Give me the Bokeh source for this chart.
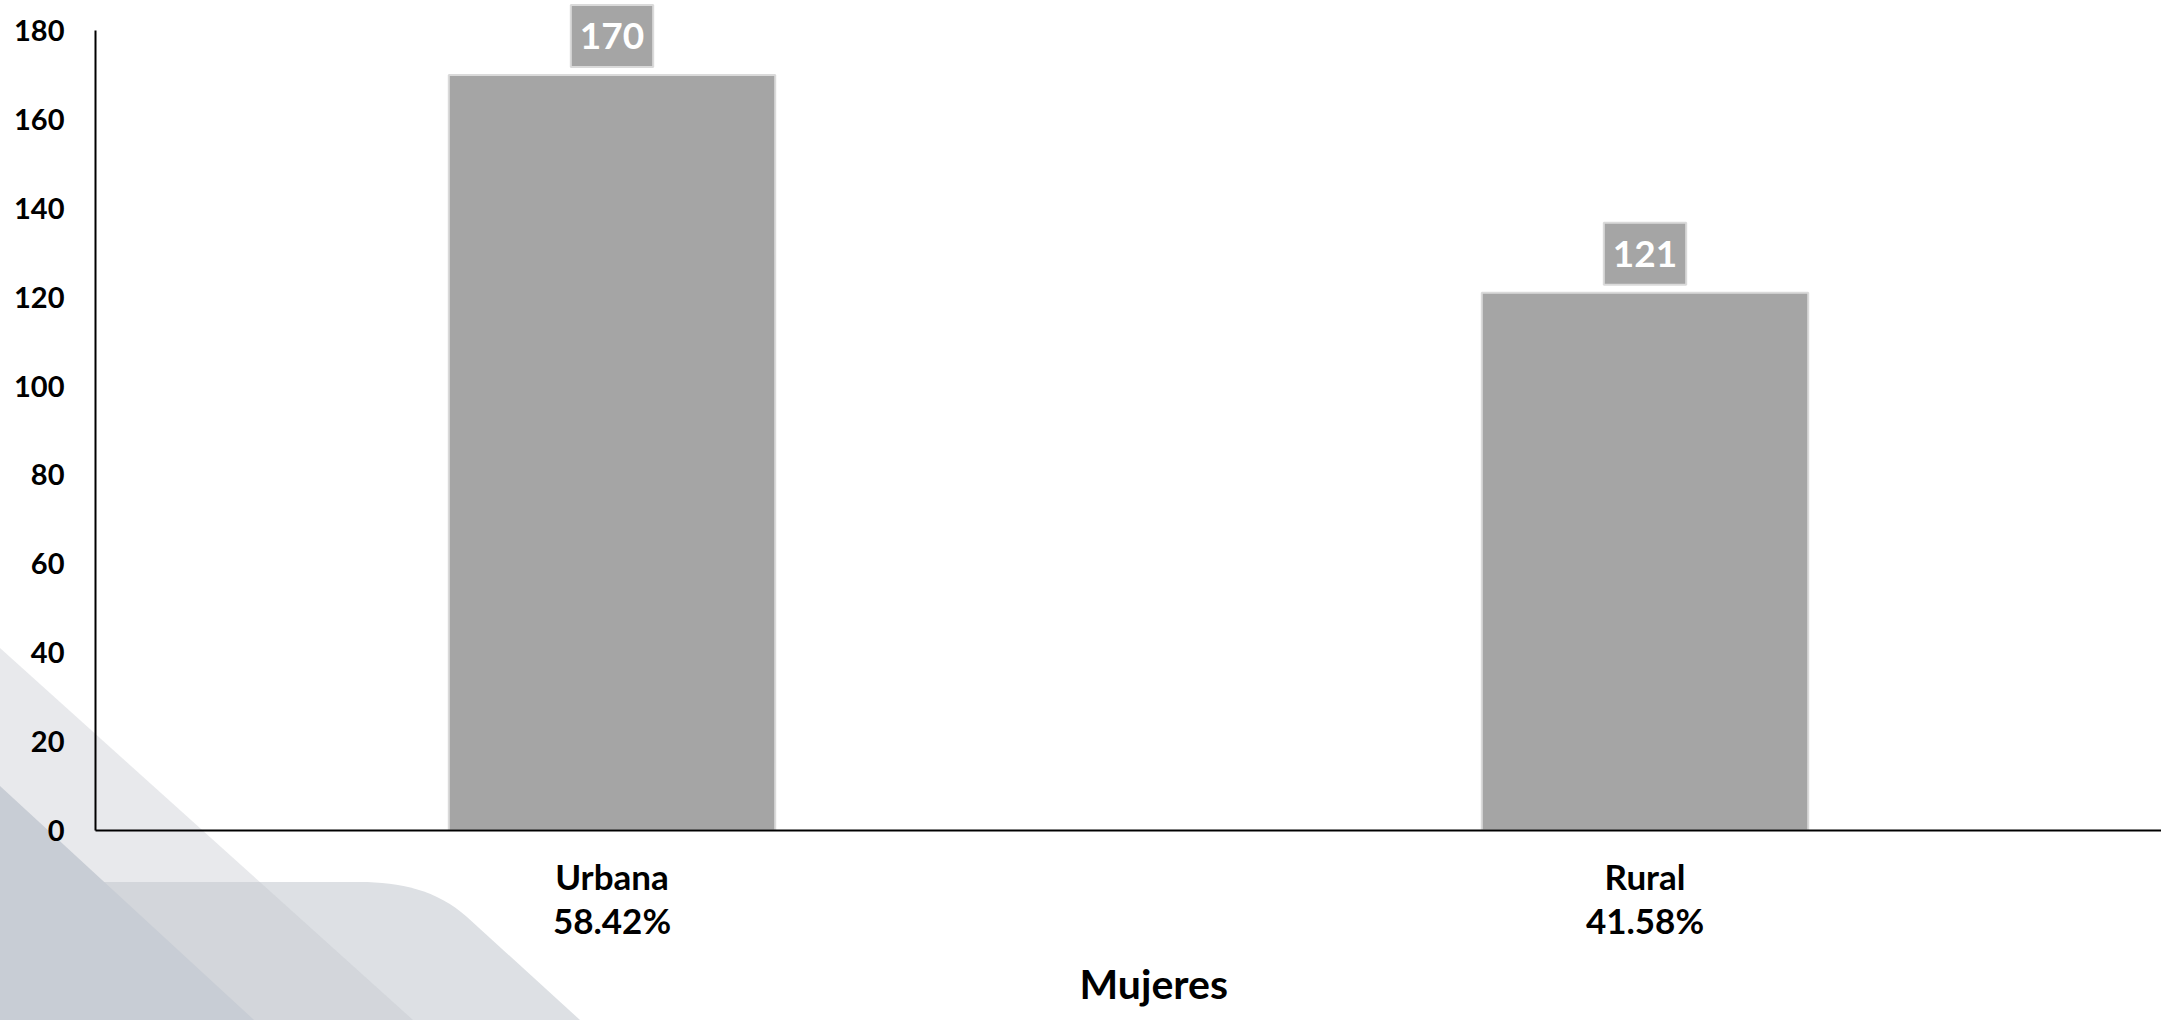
from urllib.parse import quote

from bokeh.core.properties import value
from bokeh.embed import file_html
from bokeh.models import ColumnDataSource, FactorRange, FixedTicker, Range1d, Title
from bokeh.plotting import figure
from bokeh.resources import INLINE

# ---- data ----
categories = ["Urbana", "Rural"]
counts = [170, 121]
shares = [58.42, 41.58]
group_title = "Mujeres"
y_ticks = [0, 20, 40, 60, 80, 100, 120, 140, 160, 180]

factors = [f"{c}\n{s:.2f}%" for c, s in zip(categories, shares)]
src = ColumnDataSource(dict(x=factors, top=counts, label=[str(v) for v in counts]))

FONT = "Lato"
W, H = 2161, 1020
Y_END = 186.75

p = figure(
    x_range=FactorRange(*factors),
    y_range=Range1d(0, Y_END),
    width=W, height=H,
    output_backend="svg",
    toolbar_location=None,
    min_border_left=95, min_border_right=0,
    min_border_top=0, min_border_bottom=190,
)

p.vbar(x="x", top="top", width=0.316, source=src,
       fill_color="#a5a5a5", line_color="#dadada", line_width=2)

p.text(x="x", y="top", text="label", source=src,
       text_align="center", text_baseline="bottom", y_offset=-8,
       text_color="white", text_font=value(FONT), text_font_style="bold",
       text_font_size="37px",
       background_fill_color="#a5a5a5",
       border_line_color="#dadada", border_line_width=2,
       padding=(9, 18))

# axes
p.xgrid.grid_line_color = None
p.ygrid.grid_line_color = None
p.outline_line_color = None
p.background_fill_color = None
p.border_fill_color = None

xa = p.xaxis[0]
xa.axis_line_color = "black"
xa.axis_line_width = 2
xa.major_tick_line_color = None
xa.major_tick_out = 0
xa.major_tick_in = 0
xa.major_label_standoff = 24
xa.major_label_text_font = FONT
xa.major_label_text_font_style = "bold"
xa.major_label_text_font_size = "35px"
xa.major_label_text_line_height = 1.05
xa.major_label_text_color = "black"

ya = p.yaxis[0]
ya.ticker = FixedTicker(ticks=y_ticks)
ya.bounds = (y_ticks[0], y_ticks[-1])
ya.axis_line_color = "black"
ya.axis_line_width = 2
ya.major_tick_line_color = None
ya.minor_tick_line_color = None
ya.major_tick_out = 0
ya.major_tick_in = 0
ya.major_label_standoff = 31
ya.major_label_text_font = FONT
ya.major_label_text_font_style = "bold"
ya.major_label_text_font_size = "29px"
ya.major_label_text_color = "black"

# group title below the category axis
p.add_layout(Title(
    text=group_title, align="left", offset=984, standoff=26,
    text_font=FONT, text_font_style="bold", text_font_size="41px",
    text_color="black",
), "below")

# decorative slide background shapes (bottom-left)
svg = (
    f"<svg xmlns='http://www.w3.org/2000/svg' width='{W}' height='{H}'>"
    "<path d='M0,882 L360,882 C400,882 437,890 467,917 L580,1020 L0,1020 Z' fill='rgb(221,224,228)'/>"
    "<path d='M0,648 L413,1020 L0,1020 Z' fill='rgb(195,197,205)' fill-opacity='0.38'/>"
    "<path d='M0,786 L254,1020 L0,1020 Z' fill='rgb(200,205,213)'/>"
    "</svg>"
)
p.styles = {
    "background-image": f'url("data:image/svg+xml,{quote(svg)}")',
    "background-repeat": "no-repeat",
    "background-size": f"{W}px {H}px",
}

open("out.html", "w").write(file_html(p, INLINE))
